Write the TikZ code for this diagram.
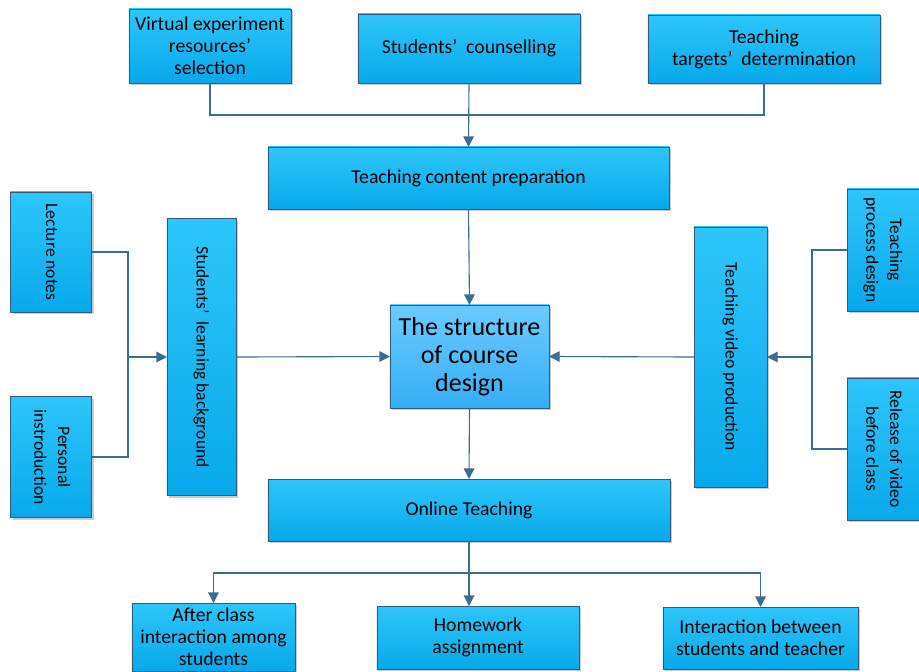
\documentclass[tikz,border=0pt]{standalone}
\usepackage{fontspec}
\setmainfont{Carlito}
\usepackage{graphicx}
\usetikzlibrary{arrows.meta,shadows}
\definecolor{boxtop}{HTML}{2EC6FA}
\definecolor{boxbot}{HTML}{07A9EA}
\definecolor{maintop}{HTML}{6ACBFF}
\definecolor{mainbot}{HTML}{35AEF3}
\definecolor{boxline}{HTML}{2E5C7A}
\definecolor{wire}{HTML}{3C6D8D}
\newcommand{\sidetext}[1]{\rotatebox{-90}{\fontsize{12.5}{17}\selectfont\begin{tabular}{@{}c@{}}#1\end{tabular}}}
\tikzset{
  block/.style={draw=boxline, line width=0.6pt, top color=boxtop, bottom color=boxbot,
    inner sep=0pt, outer sep=0pt, align=center, font=\fontsize{14}{15.6}\selectfont,
    drop shadow={shadow xshift=1.5pt, shadow yshift=-1.5pt, fill=black!40, opacity=.5}},
  mainblock/.style={block, top color=maintop, bottom color=mainbot, font=\fontsize{18.5}{20}\selectfont},
  link/.style={draw=wire, line width=0.8pt},
  arrowlink/.style={link, -{Triangle[width=7.5pt,length=7.5pt]}}
}
\begin{document}
\begin{tikzpicture}[x=0.025cm,y=-0.025cm]
\useasboundingbox (0,0) rectangle (919,671);
% top row
\node[block, minimum width=4.05cm, minimum height=1.85cm] (virt) at (210,46) {Virtual experiment\\resources’\\selection};
\node[block, minimum width=5.55cm, minimum height=1.725cm] (couns) at (469,48.5) {Students’\ \ counselling};
\node[block, minimum width=5.8cm, minimum height=1.7cm] (targ) at (764,49) {Teaching\\targets’\ \ determination};
\node[block, minimum width=10.025cm, minimum height=1.55cm] (prep) at (468.5,178) {Teaching content preparation};
% middle row
\node[block, minimum width=2.025cm, minimum height=3cm] (lect) at (51,252) {\sidetext{Lecture notes}};
\node[block, minimum width=2.025cm, minimum height=3.025cm] (pers) at (51,457) {\sidetext{Personal\\instroduction}};
\node[block, minimum width=1.725cm, minimum height=6.925cm] (slb) at (201.5,357) {\sidetext{Students’\ \ learning background}};
\node[mainblock, minimum width=3.975cm, minimum height=2.575cm] (main) at (469.5,356.5) {The structure\\of course\\design};
\node[block, minimum width=1.825cm, minimum height=6.5cm] (tvp) at (730.5,357) {\sidetext{Teaching video production}};
\node[block, minimum width=1.8cm, minimum height=3.05cm] (tpd) at (883,250) {\sidetext{Teaching\\process design}};
\node[block, minimum width=1.8cm, minimum height=3.55cm] (rel) at (883,449) {\sidetext{Release of video\\before class}};
% bottom rows
\node[block, minimum width=10.05cm, minimum height=1.55cm] (online) at (469,510) {Online Teaching};
\node[block, minimum width=4.075cm, minimum height=1.7cm] (after) at (213.5,637) {After class\\interaction among\\students};
\node[block, minimum width=5.05cm, minimum height=1.575cm] (hw) at (478,637.5) {Homework\\assignment};
\node[block, minimum width=4.875cm, minimum height=1.55cm] (inter) at (760.5,638) {Interaction between\\students and teacher};
% junctions
\coordinate (topj) at (469,115);
\coordinate (lj) at (128,357);
\coordinate (rj) at (812,357);
\coordinate (bj) at (469,573);
% connectors
\draw[link] (virt.south) |- (topj) -| (targ.south);
\draw[arrowlink] (couns.south) -- (prep.north);
\draw[arrowlink] (prep.south) -- (main.north);
\draw[link] (lect.east) -| (lj) |- (pers.east);
\draw[arrowlink] (lj) -- (slb.west);
\draw[arrowlink] (slb.east) -- (main.west);
\draw[link] (tpd.west) -| (rj) |- (rel.west);
\draw[arrowlink] (rj) -- (tvp.east);
\draw[arrowlink] (tvp.west) -- (main.east);
\draw[arrowlink] (main.south) -- (online.north);
\draw[link] (online.south) -- (bj);
\draw[arrowlink] (bj) -| (after.north);
\draw[arrowlink] (bj) -- (bj |- hw.north);
\draw[arrowlink] (bj) -| (inter.north);
\end{tikzpicture}
\end{document}
